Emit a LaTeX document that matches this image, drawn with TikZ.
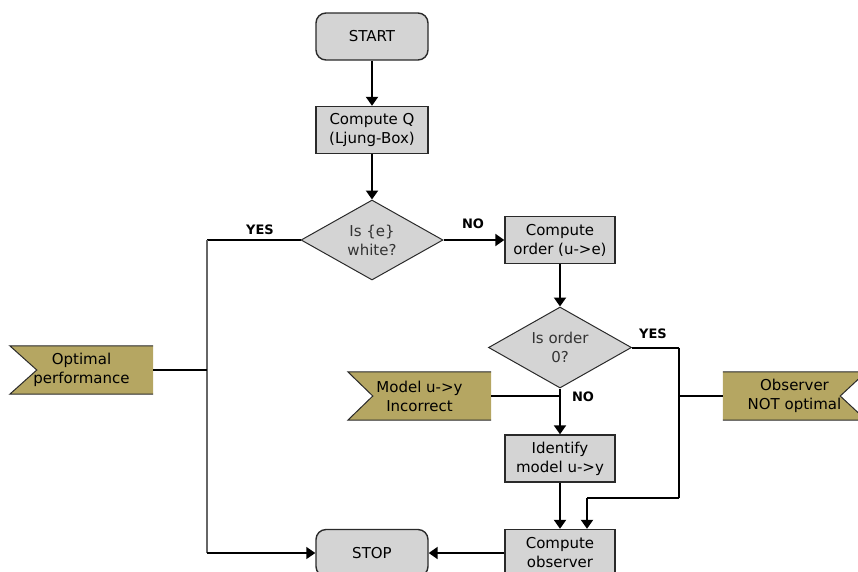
\documentclass[tikz,border=0pt]{standalone}
\usepackage{fontspec}
\setmainfont{DejaVu Sans}
\usetikzlibrary{shapes.geometric,arrows.meta,calc,backgrounds}
\definecolor{boxgray}{HTML}{D4D4D4}
\definecolor{flagol}{HTML}{B5A662}
\definecolor{edgec}{HTML}{2A2A2A}
\definecolor{grayline}{HTML}{666666}
\begin{document}
\begin{tikzpicture}[x=1pt,y=-1pt,
  font=\fontsize{15}{19}\selectfont,
  procbox/.style={draw=edgec,line width=1.4pt,fill=boxgray,minimum width=110pt,minimum height=47pt,inner sep=0pt,align=center},
  termbox/.style={procbox,rounded corners=10pt,minimum width=112pt},
  decbox/.style={diamond,draw=edgec,line width=1pt,fill=boxgray,minimum width=142pt,minimum height=80pt,inner sep=0pt,aspect=1.78,align=center,text=black!80},
  flagbox/.style={minimum width=143pt,minimum height=48pt,inner sep=0pt,align=center},
  flagfill/.style={fill=flagol},
  flagedge/.style={draw=edgec,line width=1pt},
  flowarrow/.style={line width=2pt,-{Triangle[length=9pt,width=12pt]}},
  flowline/.style={line width=2pt},
  flagline/.style={line width=1.5pt},
  lbl/.style={font=\bfseries\fontsize{13}{15}\selectfont,inner sep=0pt}]
\useasboundingbox (0,0) rectangle (858,571);

% process nodes
\node[termbox] (start) at (372,36.5) {START};
\node[procbox,minimum width=112pt] (cq) at (372,130) {Compute Q\\(Ljung-Box)};
\node[decbox] (d1) at (372,240) {Is \{e\}\\white?};
\node[procbox] (co) at (560,240) {Compute\\order (u->e)};
\node[decbox,minimum width=143pt,minimum height=81pt] (d2) at (560,347.5) {Is order\\0?};
\node[procbox] (id) at (560,458.5) {Identify\\model u->y};
\node[procbox] (obs) at (560,553) {Compute\\observer};
\node[termbox] (stop) at (372,553) {STOP};

% flags
\node[flagbox] (opt) at (81.5,370) {Optimal\\performance};
\node[flagbox] (mod) at (419.5,396) {Model u->y\\Incorrect};
\node[flagbox] (nop) at (794.5,396) {Observer\\NOT optimal};
\begin{scope}[on background layer]
  \fill[flagfill] (opt.north west) -- (opt.north east) -- (opt.south east) -- (opt.south west) -- ($(opt.west)+(27,0)$) -- cycle;
  \draw[flagedge] (opt.north east) -- (opt.north west) -- ($(opt.west)+(27,0)$) -- (opt.south west) -- (opt.south east);
  \fill[flagfill] (mod.north west) -- (mod.north east) -- (mod.south east) -- (mod.south west) -- ($(mod.west)+(25,0)$) -- cycle;
  \draw[flagedge] (mod.north east) -- (mod.north west) -- ($(mod.west)+(25,0)$) -- (mod.south west) -- (mod.south east);
  \fill[flagfill] (nop.north west) -- (nop.north east) -- ($(nop.east)+(-26,0)$) -- (nop.south east) -- (nop.south west) -- cycle;
  \draw[flagedge] (nop.north west) -- (nop.north east) -- ($(nop.east)+(-26,0)$) -- (nop.south east) -- (nop.south west);
\end{scope}

% junction coordinates
\coordinate (jl1) at (207,240);
\coordinate (jl2) at (207,553);
\coordinate (jr1) at (679,347.5);
\coordinate (jr2) at (679,498);
\coordinate (jr3) at (587,498);
\coordinate (jm) at (560,396);
\coordinate (jo) at (207,370);
\coordinate (jn) at (679,396);

% connectors
\draw[flowarrow] (start) -- (cq);
\draw[flowarrow] (cq) -- (d1);
\draw[flowarrow] (d1.east) -- (co.west);
\draw[flowarrow] (co) -- (d2);
\draw[flowarrow] (d2.south) -- (id.north);
\draw[flowarrow] (id) -- (obs);
\draw[flowline] (d2.east) -- (jr1);
\draw[line width=1.5pt] (jr1) -- (jr2);
\draw[flowline] (jr2) -- (jr3);
\draw[flowarrow] (jr3) -- (jr3 |- obs.north);
\draw[flowarrow] (obs.west) -- (stop.east);
\draw[line width=1.5pt] (d1.west) -- (jl1);
\draw[line width=1.5pt,grayline] (jl1) -- (jl2);
\draw[line width=1.5pt,-{Triangle[length=9pt,width=12pt]}] (jl2) -- (stop.west);
\draw[flagline] (opt.east) -- (jo);
\draw[flagline] (mod.east) -- (jm);
\draw[flagline] (jn) -- (nop.west);

% labels
\node[lbl] (lyes1) at (260,230) {YES};
\node[lbl] (lno1) at (473,224) {NO};
\node[lbl] (lyes2) at (653,334) {YES};
\node[lbl] (lno2) at (583,397) {NO};
\end{tikzpicture}
\end{document}
